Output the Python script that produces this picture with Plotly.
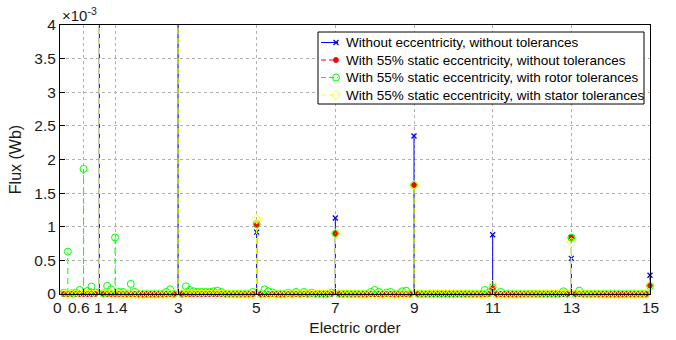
import plotly.graph_objects as go

# Electric orders sampled every 0.1
orders = [round(0.1 * i, 1) for i in range(1, 151)]

# Non-zero values (x1e-3 Wb); all other orders are zero
blue_orders = [1, 3, 5, 7, 9, 11, 13, 15]
blue_vals = [10.0, 9.0, 0.92, 1.13, 2.35, 0.88, 0.53, 0.28]

red_orders = [1, 3, 5, 7, 9, 11, 13, 15]
red_vals = [10.0, 9.0, 1.03, 0.90, 1.62, 0.085, 0.84, 0.12]

green_orders = [0.1, 0.2, 0.3, 0.4, 0.5, 0.6, 0.7, 0.8, 0.9, 1.0, 1.1, 1.2, 1.3, 1.4, 1.5,
                1.6, 1.8, 1.9, 2.7, 2.8, 3.0, 3.2, 3.3, 3.4, 3.5, 3.6, 3.7, 3.8, 3.9,
                4.0, 4.1, 4.9, 5.0, 5.2, 5.3, 5.4, 5.8, 6.0, 6.2, 6.4, 6.9, 7.0, 7.9,
                8.0, 8.1, 8.3, 8.4, 8.7, 8.8, 9.0, 10.8, 10.9, 11.0, 11.2, 12.8, 13.0,
                13.2, 15.0]
green_vals = [0.02, 0.63, 0.01, 0.02, 0.06, 1.86, 0.045, 0.11, 0.02, 10.0, 0.01, 0.12, 0.07,
              0.84, 0.03, 0.03, 0.15, 0.03, 0.03, 0.07, 9.0, 0.115, 0.06, 0.04, 0.03, 0.03,
              0.03, 0.03, 0.04, 0.05, 0.03, 0.03, 1.04, 0.07, 0.04, 0.02, 0.02, 0.03, 0.03,
              0.02, 0.02, 0.90, 0.03, 0.06, 0.03, 0.02, 0.03, 0.04, 0.05, 1.62, 0.06, 0.02,
              0.10, 0.03, 0.04, 0.84, 0.05, 0.12]

yellow_orders = [1, 3, 5, 7, 9, 11, 13, 15]
yellow_vals = [10.0, 9.0, 1.11, 0.90, 1.62, 0.14, 0.77, 0.13]

x_ticks = [0, 0.6, 1, 1.4, 3, 5, 7, 9, 11, 13, 15]
x_tick_labels = ["0", "0.6", "1", "1.4", "3", "5", "7", "9", "11", "13", "15"]
y_ticks = [0, 0.5, 1, 1.5, 2, 2.5, 3, 3.5, 4]

names = ["Without eccentricity, without tolerances",
         "With 55% static eccentricity, without tolerances",
         "With 55% static eccentricity, with rotor tolerances",
         "With 55% static eccentricity, with stator tolerances"]

# plot area in pixels
PL, PR, PT, PB = 60, 650, 25, 294
W, H = 676, 340
# small horizontal nudges of crowded x tick labels (pixels)
label_nudge = {0: -3, 0.6: -5, 1: -1, 1.4: 2}


def full_series(ords, vals):
    d = {round(float(o), 1): v for o, v in zip(ords, vals)}
    return [d.get(o, 0.0) for o in orders]


series = [
    (full_series(blue_orders, blue_vals), "#0000ff", "solid", "x-thin-open", 5, 1.3),
    (full_series(red_orders, red_vals), "#ff0000", "dash", "asterisk-open", 5, 1.6),
    (full_series(green_orders, green_vals), "#00ff00", "dash", "circle-open", 7, 1),
    (full_series(yellow_orders, yellow_vals), "#ffff00", "dash", "diamond-open", 7, 1),
]

fig = go.Figure()
for name, (vals, col, dash, sym, ms, mlw) in zip(names, series):
    sx, sy = [], []
    for o, v in zip(orders, vals):
        if v != 0:
            sx += [o, o, None]
            sy += [0, v, None]
    fig.add_trace(go.Scatter(x=sx, y=sy, mode="lines",
                             line=dict(color=col, width=1, dash=dash if dash == "solid" else "6px,4px"),
                             showlegend=False, hoverinfo="skip"))
    fig.add_trace(go.Scatter(x=orders, y=vals, mode="markers", cliponaxis=False,
                             marker=dict(symbol=sym, size=ms, color=col, line=dict(color=col, width=mlw)),
                             showlegend=False, name=name))

# ---- legend drawn on an overlay axis measured in pixels ----
LX0, LX1, LY0, LY1 = 318, 644, 32, 104
row_y = [42.5, 60, 77.5, 95]
fig.add_trace(go.Scatter(x=[LX0, LX1, LX1, LX0, LX0], y=[LY0, LY0, LY1, LY1, LY0],
                         xaxis="x2", yaxis="y2", mode="lines", fill="toself",
                         fillcolor="white", line=dict(color="black", width=1),
                         showlegend=False, hoverinfo="skip"))
annotations = []
for (vals, col, dash, sym, ms, mlw), ry, name in zip(series, row_y, names):
    fig.add_trace(go.Scatter(x=[321, 338], y=[ry, ry], xaxis="x2", yaxis="y2", mode="lines",
                             line=dict(color=col, width=1, dash=dash if dash == "solid" else "5px,3px"),
                             showlegend=False, hoverinfo="skip"))
    fig.add_trace(go.Scatter(x=[336], y=[ry], xaxis="x2", yaxis="y2", mode="markers",
                             marker=dict(symbol=sym, size=ms, color=col, line=dict(color=col, width=mlw)),
                             showlegend=False, hoverinfo="skip"))
    annotations.append(dict(text=name, xref="x2", yref="y2", x=344, y=ry, xanchor="left",
                            yanchor="middle", showarrow=False,
                            font=dict(size=13.5, color="black")))

# x tick labels as annotations (so crowded labels can be nudged like the original)
for t, lab in zip(x_ticks, x_tick_labels):
    annotations.append(dict(text=lab, xref="x", yref="paper", x=t, y=0, xanchor="center",
                            yanchor="top", showarrow=False, yshift=-3,
                            xshift=label_nudge.get(t, 0),
                            font=dict(size=15.5, color="#1a1a1a")))

annotations.append(dict(text="×10<sup>-3</sup>", xref="paper", yref="paper", x=0.0, y=1.0,
                        xanchor="left", yanchor="bottom", showarrow=False, yshift=-1,
                        font=dict(size=15, color="#1a1a1a")))

fig.update_layout(
    width=W, height=H,
    margin=dict(l=PL, r=W - PR, t=PT, b=H - PB),
    paper_bgcolor="white", plot_bgcolor="white",
    font=dict(family="Liberation Sans, Arial, sans-serif", size=15, color="#1a1a1a"),
    showlegend=False,
    annotations=annotations,
    xaxis2=dict(overlaying="x", range=[PL, PR], visible=False, fixedrange=True),
    yaxis2=dict(overlaying="y", range=[PB, PT], visible=False, fixedrange=True),
)
fig.layout.xaxis.update(range=[0, 15], tickvals=x_ticks, showticklabels=False,
                        automargin=False,
                        showgrid=True, gridcolor="#b0b0b0", griddash="dot", gridwidth=1,
                        showline=True, linecolor="black", linewidth=1, mirror=True,
                        ticks="inside", ticklen=5, tickcolor="black",
                        zeroline=False,
                        title=dict(text="Electric order", standoff=28, font=dict(size=15.5)))
fig.layout.yaxis.update(range=[0, 4], tickvals=y_ticks, ticktext=[f"{t:g}" for t in y_ticks],
                        automargin=False, tickfont=dict(size=15.5),
                        showgrid=True, gridcolor="#b0b0b0", griddash="dot", gridwidth=1,
                        showline=True, linecolor="black", linewidth=1, mirror=True,
                        ticks="inside", ticklen=5, tickcolor="black",
                        zeroline=False,
                        title=dict(text="Flux (Wb)", standoff=8, font=dict(size=16)))

fig.write_html("out.html")
